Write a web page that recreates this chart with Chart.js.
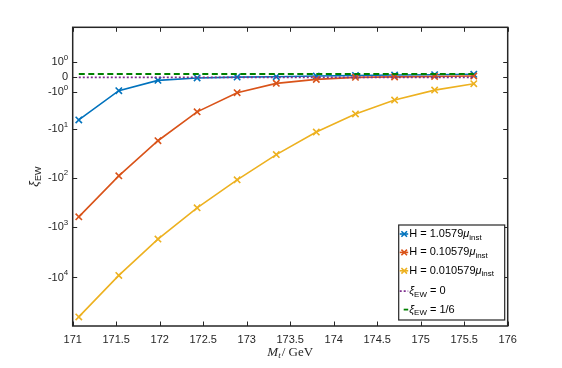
<!DOCTYPE html>
<html>
<head>
<meta charset="utf-8">
<script src="https://cdn.jsdelivr.net/npm/chart.js@4.4.0/dist/chart.umd.min.js"></script>
<style>
  html, body { margin: 0; padding: 0; background: #fff; }
  #wrap { width: 562px; height: 368px; }
</style>
</head>
<body>
<div id="wrap"><canvas id="myChart" width="562" height="368"></canvas></div>
<script>
'use strict';

// top quark mass (GeV)
const massValues = [171.07, 171.53, 171.98, 172.43, 172.89, 173.34, 173.80, 174.25, 174.70, 175.16, 175.61];

// xi_EW for each H
const xiH1 = [-6.1, -0.85, -0.15, -0.03, 0.01, 0.03, 0.06, 0.09, 0.11, 0.13, 0.15];
const xiH01 = [-614, -92, -17.5, -3.9, -1.03, -0.32, -0.1, 0.0, 0.02, 0.04, 0.06];
const xiH001 = [-61400, -9100, -1710, -405, -111, -34, -11.4, -4.4, -1.84, -0.8, -0.34];

// reference lines
const refMass = [171.07, 175.61];
const xiZero = [0, 0];
const xiConf = [1 / 6, 1 / 6];

const seriesLabels = ['H = 1.0579μ_inst', 'H = 0.10579μ_inst', 'H = 0.010579μ_inst', 'ξ_EW = 0', 'ξ_EW = 1/6'];
const seriesColors = ['#0072BD', '#D95319', '#EDB120', '#7E2F8E', '#008000'];

const xTickStep = 0.5;
const yTickValues = [1, 0, -1, -10, -100, -1000, -10000];
const yTickLabels = ['10^0', '0', '-10^0', '-10^1', '-10^2', '-10^3', '-10^4'];

const FONT = "'Liberation Sans', Arial, sans-serif";

// symmetric log: sign(v) * log10(1 + |v|)
function slog(v) {
  return Math.sign(v) * Math.log10(1 + Math.abs(v));
}

function toPoints(xs, ys) {
  let pts = [];
  for (let i = 0; i < xs.length; i++) {
    pts.push({ x: xs[i], y: slog(ys[i]) });
  }
  return pts;
}

// text with _sub and ^sup parts, greek letters in italic
function richParts(text) {
  return text.split(/([_^]\w+)/).filter(p => p.length);
}
function partFont(p, size) {
  if (p[0] === '_' || p[0] === '^') return (size * 0.72) + 'px ' + FONT;
  return size + 'px ' + FONT;
}
function drawRich(ctx, text, x, y, size, align) {
  let parts = richParts(text);
  let total = 0;
  let chunks = [];
  parts.forEach(p => {
    let shift = 0;
    let s = p;
    if (p[0] === '_') { shift = size * 0.32; s = p.slice(1); }
    if (p[0] === '^') { shift = -size * 0.42; s = p.slice(1); }
    // split greek chars
    s.split(/([α-ωΑ-Ω])/).filter(c => c.length).forEach(c => {
      let greek = /[α-ωΑ-Ω]/.test(c);
      let f = (greek ? 'italic ' : '') + partFont(p, size);
      ctx.font = f;
      let w = ctx.measureText(c).width;
      chunks.push({ c, f, w, shift });
      total += w;
    });
  });
  let cx = x;
  if (align === 'right') cx = x - total;
  if (align === 'center') cx = x - total / 2;
  ctx.textAlign = 'left';
  ctx.textBaseline = 'middle';
  chunks.forEach(ch => {
    ctx.font = ch.f;
    ctx.fillText(ch.c, cx, y + ch.shift);
    cx += ch.w;
  });
}

const axesDecor = {
  id: 'axesDecor',
  afterDraw(chart) {
    const ctx = chart.ctx;
    const a = chart.chartArea;
    const xs = chart.scales.x;
    const ys = chart.scales.y;
    ctx.save();
    ctx.strokeStyle = '#262626';
    ctx.fillStyle = '#262626';

    // inward ticks on all sides
    ctx.lineWidth = 1;
    ctx.beginPath();
    xs.ticks.forEach(t => {
      let px = Math.round(xs.getPixelForValue(t.value)) + 0.5;
      ctx.moveTo(px, a.bottom); ctx.lineTo(px, a.bottom - 4.5);
      ctx.moveTo(px, a.top); ctx.lineTo(px, a.top + 4.5);
    });
    ys.ticks.forEach(t => {
      let py = Math.round(ys.getPixelForValue(t.value)) + 0.5;
      ctx.moveTo(a.left, py); ctx.lineTo(a.left + 4.5, py);
      ctx.moveTo(a.right, py); ctx.lineTo(a.right - 4.5, py);
    });
    ctx.stroke();

    // box
    ctx.lineWidth = 1.5;
    ctx.strokeRect(a.left, a.top, a.right - a.left, a.bottom - a.top);

    // y tick labels
    ys.ticks.forEach((t, i) => {
      drawRich(ctx, yTickLabels[i], a.left - 4.5, ys.getPixelForValue(t.value), 11, 'right');
    });

    // y title
    ctx.save();
    ctx.translate(35, (a.top + a.bottom) / 2);
    ctx.rotate(-Math.PI / 2);
    drawRich(ctx, 'ξ_EW', 0, 0, 12.5, 'center');
    ctx.restore();

    // x title
    ctx.font = "italic 13px 'Liberation Serif', serif";
    let xm = (a.left + a.right) / 2;
    let w1 = ctx.measureText('M').width;
    ctx.font = "italic 9px 'Liberation Serif', serif";
    let w2 = ctx.measureText('t').width;
    ctx.font = "13px 'Liberation Serif', serif";
    let w3 = ctx.measureText('/ GeV').width;
    let sx = xm - (w1 + w2 + w3 + 1) / 2;
    ctx.textAlign = 'left';
    ctx.textBaseline = 'alphabetic';
    ctx.font = "italic 13px 'Liberation Serif', serif";
    ctx.fillText('M', sx, 356);
    ctx.font = "italic 9px 'Liberation Serif', serif";
    ctx.fillText('t', sx + w1, 358);
    ctx.font = "13px 'Liberation Serif', serif";
    ctx.fillText('/ GeV', sx + w1 + w2 + 1, 356);

    // legend
    let bw = 106, bh = 95;
    let bx = a.right - 3 - bw;
    let by = a.bottom - 6 - bh;
    ctx.fillStyle = '#fff';
    ctx.fillRect(bx, by, bw, bh);
    ctx.lineWidth = 1.2;
    ctx.strokeStyle = '#262626';
    ctx.strokeRect(bx, by, bw, bh);
    chart.data.datasets.forEach((ds, i) => {
      let ry = by + 9 + i * 18.4 + (i >= 3 ? 2 : 0);
      ctx.strokeStyle = ds.borderColor;
      ctx.lineWidth = ds.borderWidth;
      ctx.setLineDash(ds.borderDash || []);
      ctx.beginPath();
      if (i === 4) { ctx.moveTo(bx + 5, ry); } else { ctx.moveTo(bx + 1, ry); }
      ctx.lineTo(bx + 9.5, ry);
      ctx.stroke();
      ctx.setLineDash([]);
      if (ds.pointRadius > 0) {
        let cx = bx + 5.5, r = 2.8;
        ctx.beginPath();
        ctx.moveTo(cx - r, ry - r); ctx.lineTo(cx + r, ry + r);
        ctx.moveTo(cx - r, ry + r); ctx.lineTo(cx + r, ry - r);
        ctx.stroke();
      }
      ctx.fillStyle = '#000';
      drawRich(ctx, ds.label, bx + 10.5, ry, 11, 'left');
    });
    ctx.restore();
  }
};

function seriesSet(i, xs, ys, extra) {
  return Object.assign({
    label: seriesLabels[i],
    data: toPoints(xs, ys),
    borderColor: seriesColors[i],
    backgroundColor: seriesColors[i],
    borderWidth: 1.6,
    pointStyle: 'crossRot',
    pointRadius: 4.5,
    pointBorderWidth: 1.6,
    tension: 0,
    order: 4 - i
  }, extra || {});
}

const ctx = document.getElementById('myChart').getContext('2d');

let config = {
  type: 'line',
  data: {
    datasets: [
      seriesSet(0, massValues, xiH1),
      seriesSet(1, massValues, xiH01),
      seriesSet(2, massValues, xiH001),
      seriesSet(3, refMass, xiZero, { pointRadius: 0, borderDash: [2, 2], borderWidth: 1.8 }),
      seriesSet(4, refMass, xiConf, { pointRadius: 0, borderDash: [6, 3.5], borderWidth: 1.8 })
    ]
  },
  options: {
    responsive: false,
    animation: false,
    devicePixelRatio: 1,
    layout: { padding: { left: 0, top: 27.3, right: 54.3, bottom: 0 } },
    plugins: { legend: { display: false }, tooltip: { enabled: false } },
    scales: {
      x: {
        type: 'linear',
        min: 171,
        max: 176,
        grid: { display: false, drawTicks: false },
        border: { display: false },
        ticks: {
          stepSize: xTickStep,
          color: '#262626',
          font: { size: 11, family: FONT },
          padding: 7,
          maxRotation: 0,
          callback: v => String(v)
        },
        afterFit: s => { s.height = 42; }
      },
      y: {
        type: 'linear',
        min: -4.97,
        max: 1.0,
        grid: { display: false, drawTicks: false },
        border: { display: false },
        ticks: { display: false },
        afterBuildTicks: s => { s.ticks = yTickValues.map(v => ({ value: slog(v) })); },
        afterFit: s => { s.width = 72.7; }
      }
    }
  },
  plugins: [axesDecor]
};
const myChart = new Chart(ctx, config);
</script>
</body>
</html>
